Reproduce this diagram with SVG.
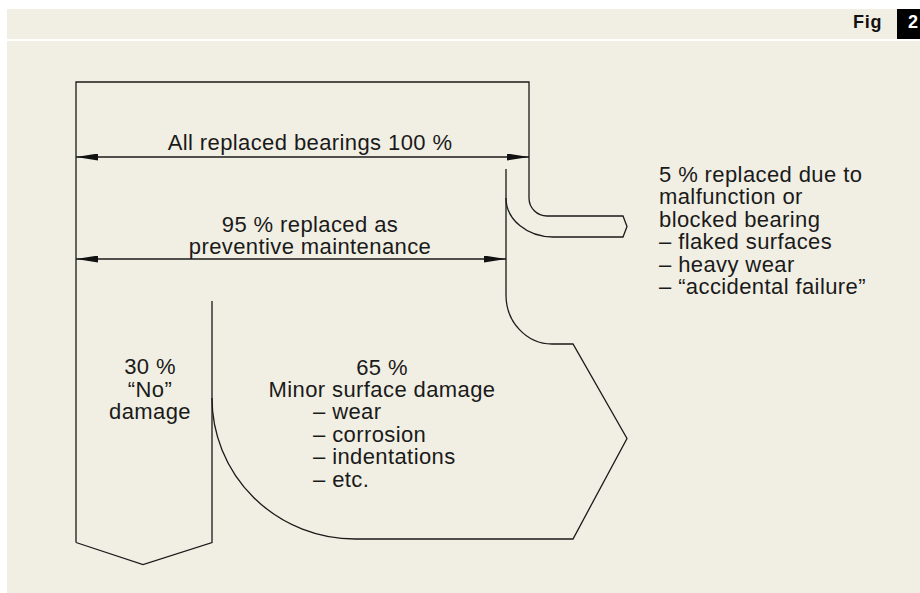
<svg xmlns="http://www.w3.org/2000/svg" width="920" height="593" viewBox="0 0 920 593">
<defs>
<style>
.ln{fill:none;stroke:#1a1a1a;stroke-width:1.3;stroke-linejoin:miter}
.t{font-family:"Liberation Sans",Arial,Helvetica,sans-serif;font-size:22px;letter-spacing:0.4px;fill:#1a1a1a}
.c{text-anchor:middle}
.fig{font-family:"Liberation Sans",Arial,Helvetica,sans-serif;font-size:18px;font-weight:bold;letter-spacing:0.8px}
</style>
<marker id="ah" viewBox="0 0 22 7" refX="22" refY="3.5" markerWidth="22" markerHeight="7" markerUnits="userSpaceOnUse" orient="auto-start-reverse">
<path d="M0,0 L22,3.5 L0,7 Z" fill="#111"/>
</marker>
</defs>
<rect x="0" y="0" width="920" height="593" fill="#ffffff"/>
<rect x="7" y="9" width="913" height="30" fill="#f1efe3"/>
<rect x="7" y="41" width="913" height="552" fill="#f1efe3"/>
<g id="header">
<text class="fig" x="853" y="28" fill="#111">Fig</text>
<rect x="897" y="9" width="23" height="30" fill="#000"/>
<text class="fig" x="908" y="28" fill="#fff">2</text>
</g>
<g id="node-all">
<path class="ln" d="M76,542.5 L76,82 L529,82 L529,198 A18,18 0 0 0 547,216 L623,216 L627,226.5 L623,237 L553,237 A47,39 0 0 1 506,198"/>
<text class="t c" x="310" y="150">All replaced bearings 100 %</text>
</g>
<g id="node-95">
<path class="ln" d="M506,169 L506,295 A46,49 0 0 0 552,344 L573,344 L627,438.5 L573,539 L355,539 A143,141 0 0 1 212,398"/>
<text class="t c" x="310" y="231.5">95 % replaced as<tspan x="310" dy="22">preventive maintenance</tspan></text>
</g>
<g id="node-5">
<text class="t" x="659" y="182">5 % replaced due to<tspan x="659" dy="22.4">malfunction or</tspan><tspan x="659" dy="22.4">blocked bearing</tspan><tspan x="659" dy="22.4">– flaked surfaces</tspan><tspan x="659" dy="22.4">– heavy wear</tspan><tspan x="659" dy="22.4">– “accidental failure”</tspan></text>
</g>
<g id="node-30">
<path class="ln" d="M212,301 L212,542.5 L143,564.5 L76,542.5"/>
<text class="t c" x="150" y="374.3">30 %<tspan x="150" dy="22.4">“No”</tspan><tspan x="150" dy="22.4">damage</tspan></text>
</g>
<g id="node-65">
<text class="t" x="382" y="375"><tspan x="382" text-anchor="middle">65 %</tspan><tspan x="382" dy="22" text-anchor="middle">Minor surface damage</tspan><tspan x="313" dy="22.4">– wear</tspan><tspan x="313" dy="22.4">– corrosion</tspan><tspan x="313" dy="22.4">– indentations</tspan><tspan x="313" dy="22.4">– etc.</tspan></text>
</g>
<g id="connectors">
<line class="ln" x1="76" y1="157" x2="529" y2="157" marker-start="url(#ah)" marker-end="url(#ah)" stroke-width="1"/>
<line class="ln" x1="76" y1="259" x2="506" y2="259" marker-start="url(#ah)" marker-end="url(#ah)" stroke-width="1"/>
</g>
</svg>
